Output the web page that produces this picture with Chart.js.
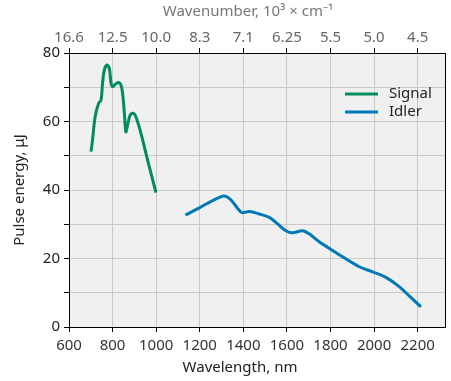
<!DOCTYPE html>
<html lang="en">
<head>
<meta charset="UTF-8">
<title>Pulse energy vs wavelength</title>
<script src="https://cdn.jsdelivr.net/npm/chart.js"></script>
<style>
  html, body { margin: 0; padding: 0; background: #fff; }
  canvas { display: block; }
</style>
</head>
<body>
<canvas id="grafico" width="451" height="381"></canvas>
<script>
// Signal branch (wavelength nm, pulse energy uJ)
const signalWl = [701, 708, 720, 736, 747, 754, 762, 774, 785, 793, 800, 815, 828, 838, 846, 854, 861, 869, 881, 895, 907, 930, 953, 976, 999];
const signalE  = [51.2, 54.6, 61.4, 65.3, 66.3, 71.2, 75.0, 76.5, 75.5, 71.2, 70.2, 71.0, 71.4, 70.7, 68.2, 62.4, 57.0, 59.0, 61.9, 62.4, 61.4, 56.6, 50.7, 44.9, 39.2];

// Idler branch
const idlerWl = [1134, 1198, 1259, 1305, 1328, 1350, 1373, 1394, 1427, 1473, 1519, 1557, 1595, 1626, 1672, 1702, 1748, 1794, 1855, 1932, 1993, 2054, 2115, 2161, 2215];
const idlerE  = [32.7, 34.8, 36.9, 38.2, 37.9, 36.6, 34.7, 33.4, 33.7, 33.0, 32.0, 30.1, 28.1, 27.5, 28.1, 27.2, 24.9, 23.0, 20.5, 17.6, 16.1, 14.5, 11.8, 9.1, 5.9];

// axis ticks
const wlTicks = [600, 800, 1000, 1200, 1400, 1600, 1800, 2000, 2200];
const wnLabels = ['16.6', '12.5', '10.0', '8.3', '7.1', '6.25', '5.5', '5.0', '4.5'];
const seriesNames = ['Signal', 'Idler'];
const seriesColors = ['#008c5c', '#0079b5'];

const FONT = "'Noto Sans', 'Open Sans', sans-serif";

function pontos(xs, ys) {
  return xs.map((x, i) => ({ x: x, y: ys[i] }));
}

// fundo cinza, moldura, títulos dos eixos x e legenda
const plotExtras = {
  id: 'plotExtras',
  beforeDraw(chart) {
    const a = chart.chartArea, ctx = chart.ctx;
    ctx.save();
    ctx.fillStyle = '#f0f0f0';
    ctx.fillRect(a.left, a.top, a.right - a.left, a.bottom - a.top);
    ctx.restore();
  },
  afterDraw(chart) {
    const a = chart.chartArea, ctx = chart.ctx;
    ctx.save();
    ctx.strokeStyle = '#000';
    ctx.lineWidth = 1;
    ctx.strokeRect(a.left + 0.5, a.top + 0.5, a.right - a.left - 1, a.bottom - a.top);

    ctx.font = '15px ' + FONT;
    ctx.textAlign = 'center';
    ctx.textBaseline = 'middle';
    ctx.fillStyle = '#222';
    ctx.fillText('Wavelength, nm', 240, 368);
    ctx.fillStyle = '#777';
    ctx.fillText('Wavenumber, 10³ × cm⁻¹', 248, 12);

    // legenda
    ctx.textAlign = 'left';
    seriesNames.forEach((n, i) => {
      const y = a.top + 41 + i * 18;
      ctx.strokeStyle = seriesColors[i];
      ctx.lineWidth = 3;
      ctx.beginPath();
      ctx.moveTo(a.right - 101, y);
      ctx.lineTo(a.right - 68, y);
      ctx.stroke();
      ctx.fillStyle = '#222';
      ctx.fillText(n, a.right - 57, y);
    });
    ctx.restore();
  }
};

const ctx = document.getElementById('grafico').getContext('2d');
new Chart(ctx, {
  type: 'line',
  data: {
    datasets: [
      {
        label: seriesNames[0],
        data: pontos(signalWl, signalE),
        borderColor: seriesColors[0],
        borderWidth: 3,
        pointRadius: 0,
        tension: 0.35,
        fill: false
      },
      {
        label: seriesNames[1],
        data: pontos(idlerWl, idlerE),
        borderColor: seriesColors[1],
        borderWidth: 3,
        pointRadius: 0,
        tension: 0.35,
        fill: false
      }
    ]
  },
  options: {
    responsive: false,
    animation: false,
    devicePixelRatio: 1,
    layout: { padding: { right: 5, left: 0, top: 0, bottom: 0 } },
    plugins: {
      legend: { display: false },
      tooltip: { enabled: false }
    },
    scales: {
      x: {
        type: 'linear',
        position: 'bottom',
        min: 600,
        max: 2330,
        afterBuildTicks: s => { s.ticks = wlTicks.map(v => ({ value: v })); },
        afterFit: s => { s.height = 54; },
        grid: { color: '#c9c9c9', tickColor: '#000', tickLength: 5, drawOnChartArea: true },
        border: { display: false },
        ticks: {
          color: '#333', font: { family: FONT, size: 15 }, padding: 5, maxRotation: 0, autoSkip: false,
          callback: v => String(v)
        },
        title: { display: false }
      },
      x2: {
        type: 'linear',
        position: 'top',
        min: 600,
        max: 2330,
        afterBuildTicks: s => { s.ticks = wlTicks.map(v => ({ value: v })); },
        afterFit: s => { s.height = 53; },
        grid: { drawOnChartArea: false, tickColor: '#000', tickLength: 5 },
        border: { display: false },
        ticks: {
          color: '#666', font: { family: FONT, size: 15 }, padding: 1, maxRotation: 0, autoSkip: false,
          callback: (v) => wnLabels[wlTicks.indexOf(v)] || ''
        },
        title: { display: false }
      },
      y: {
        min: 0,
        max: 80,
        afterFit: s => { s.width = 69; },
        grid: { color: '#c9c9c9', tickColor: '#000', tickLength: 5 },
        border: { display: false },
        ticks: {
          stepSize: 10,
          color: '#222', font: { family: FONT, size: 15 }, padding: 4,
          callback: v => (v % 20 === 0 ? v : '')
        },
        title: { display: true, text: 'Pulse energy, μJ', color: '#222', font: { family: FONT, size: 15 }, padding: { top: 11, bottom: 0 } }
      }
    }
  },
  plugins: [plotExtras]
});
</script>
</body>
</html>
